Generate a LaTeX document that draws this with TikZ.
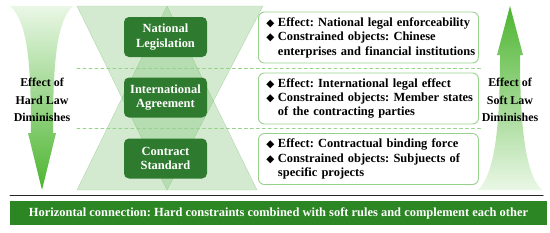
\documentclass[tikz,border=0pt]{standalone}
\usepackage{fontspec}
\setmainfont{Liberation Serif}
\newfontfamily\dejavu{DejaVu Sans}
\usetikzlibrary{arrows.meta}
\frenchspacing
\definecolor{boxgreen}{RGB}{46,122,46}
\definecolor{bargreen}{RGB}{44,134,36}
\definecolor{trigreen}{RGB}{120,190,110}
\definecolor{linegreen}{RGB}{150,210,140}
\definecolor{arrowgreen}{RGB}{80,190,50}
\newcommand{\bul}{{\dejavu\fontsize{10.5}{10}\selectfont ◆}\hspace{3.5bp}}
\newcommand{\ind}{\phantom{\bul}}
\tikzset{
  levelbox/.style={fill=boxgreen,rounded corners=5bp,minimum width=83bp,minimum height=40bp,
    text=white,align=center,font=\bfseries\fontsize{12.5}{14.5}\selectfont,inner sep=0pt},
  effectbox/.style={draw=linegreen,line width=0.9pt,fill=white,rounded corners=6bp,
    minimum width=220bp,minimum height=51bp,align=left,anchor=west,
    font=\bfseries\fontsize{12.5}{14.5}\selectfont,inner sep=0pt,text width=214bp},
  sidetext/.style={align=center,font=\bfseries\fontsize{12}{17.5}\selectfont},
  layer/.style={dashed,linegreen,line width=0.8pt}
}
\begin{document}
\begin{tikzpicture}[x=1bp,y=-1bp,line cap=round,line join=round]
  \useasboundingbox (0,0) rectangle (550,232);

  % two crossed triangles
  \fill[trigreen,fill opacity=0.32,draw=trigreen,draw opacity=0.5]
    (77,6) -- (263,6) -- (167,190) -- cycle;
  \fill[trigreen,fill opacity=0.32,draw=trigreen,draw opacity=0.5]
    (77,190) -- (257,190) -- (167,6) -- cycle;

  % hard law arrow
  \shade[top color=arrowgreen!12,bottom color=arrowgreen!95!black]
    (10,6) -- (73,6) .. controls (56,22) and (53,65) .. (53,133)
    -- (56,133) -- (42,190) -- (28,133) -- (31,133)
    .. controls (31,65) and (28,22) .. (10,6) -- cycle;
  % soft law arrow
  \shade[bottom color=arrowgreen!12,top color=arrowgreen!95!black]
    (478,190) -- (542,190) .. controls (525,174) and (520,125) .. (520,55)
    -- (523,55) -- (510,6) -- (497,55) -- (500,55)
    .. controls (500,125) and (495,174) .. (478,190) -- cycle;

  \node[sidetext] (hard) at (42,100) {Effect of\\Hard Law\\Diminishes};
  \node[sidetext] (soft) at (510,100) {Effect of\\Soft Law\\Diminishes};

  % layer separators
  \draw[layer] (77,68) -- (482,68);
  \draw[layer] (77,128) -- (482,128);

  \node[levelbox] (nat) at (165.5,37) {National\\Legislation};
  \node[levelbox] (intl) at (165.5,97.5) {International\\Agreement};
  \node[levelbox] (contr) at (165.5,158.5) {Contract\\Standard};

  \node[effectbox] (eff1) at (258,37.5) {\hspace*{5bp}\begin{minipage}{214bp}
    \bul Effect: National legal enforceability\\
    \bul Constrained objects: Chinese\\
    \ind enterprises and financial institutions\end{minipage}};
  \node[effectbox] (eff2) at (258,98.5) {\hspace*{5bp}\begin{minipage}{214bp}
    \bul Effect: International legal effect\\
    \bul Constrained objects: Member states\\
    \ind of the contracting parties\end{minipage}};
  \node[effectbox] (eff3) at (258,159) {\hspace*{5bp}\begin{minipage}{214bp}
    \bul Effect: Contractual binding force\\
    \bul Constrained objects: Subjuects of\\
    \ind specific projects\end{minipage}};

  % bottom rule and banner
  \draw[line width=1pt,black!85] (10,195) -- (543,195);
  \node[fill=bargreen,minimum width=537bp,minimum height=24bp,inner sep=0pt,text=white,
    font=\bfseries\fontsize{12.5}{14}\selectfont] (banner) at (278.5,213)
    {Horizontal connection: Hard constraints combined with soft rules and complement each other};
\end{tikzpicture}
\end{document}
